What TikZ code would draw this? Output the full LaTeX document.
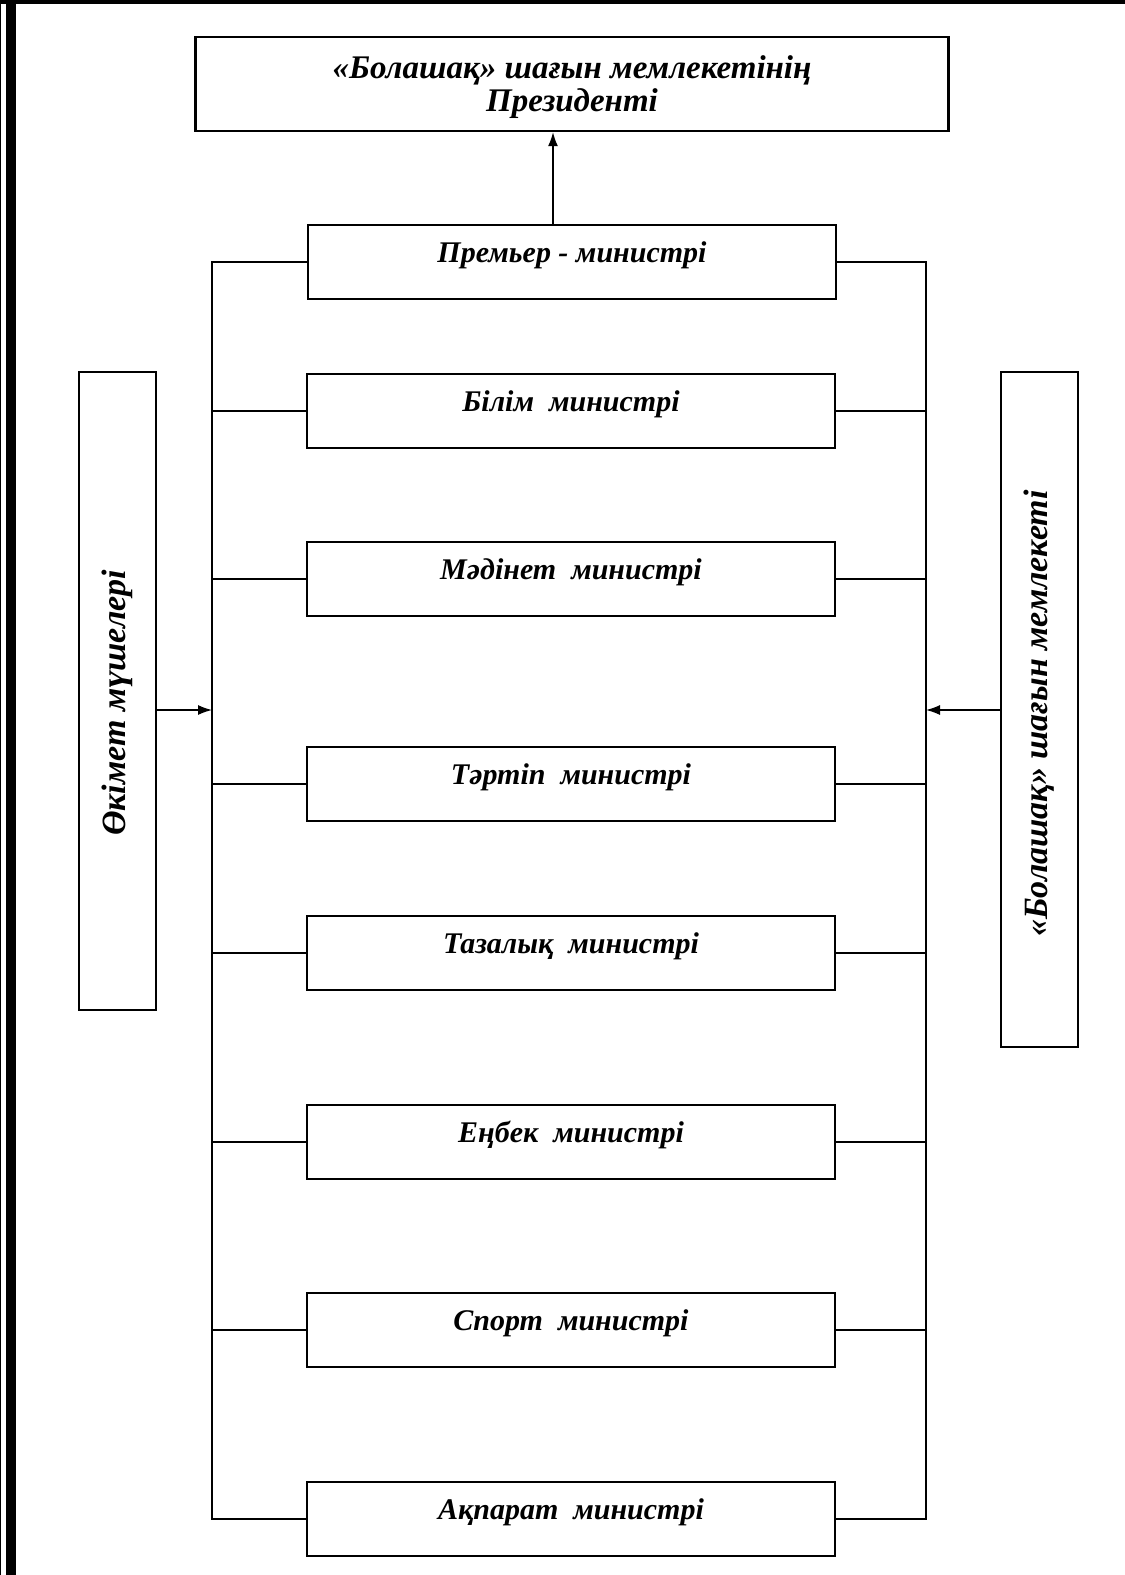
\documentclass[tikz,border=0pt]{standalone}
\usepackage{fontspec}
\setmainfont{Liberation Serif}
\usepackage{graphicx}
\usetikzlibrary{arrows.meta,calc}

\begin{document}
\begin{tikzpicture}[x=1pt,y=-1pt,
  BoxFont/.style={font=\fontsize{30}{34}\selectfont\bfseries\itshape},
  Box/.style={draw,BoxFont,line width=2.4pt,minimum width=528pt,minimum height=74pt,inner sep=0pt,text height=20pt,text depth=20pt},
  TopBox/.style={draw,line width=2.4pt,minimum width=753pt,minimum height=94pt,align=center,text depth=0pt,font=\fontsize{33}{33}\selectfont\bfseries\itshape},
  SideBox/.style={draw,line width=2pt,minimum width=77pt,inner sep=0pt,font=\fontsize{34}{38}\selectfont\bfseries\itshape},
  Link/.style={line width=2pt},
  Arr/.style={line width=1.3pt,-{Latex[length=14pt,width=10pt]}}]

\useasboundingbox (0,0) rectangle (1125,1575);
\fill (0,0) rectangle (1125,4);
\fill (6,0) rectangle (16,1575);
\draw[line width=1pt] (0.5,0) -- (0.5,1575);

\node[TopBox] (Pres) at (572,84) {«Болашақ» шағын мемлекетінің\\Президенті};
\node[Box] (Prem) at (572,262) {Премьер - министрі};
\foreach \n/\y/\t in {Bilim/411/Білім\ \ министрі,Madinet/579/Мәдінет\ \ министрі,
  Tartip/784/Тәртіп\ \ министрі,Tazalyk/953/Тазалық\ \ министрі,Enbek/1142/Еңбек\ \ министрі,
  Sport/1330/Спорт\ \ министрі,Akparat/1519/Ақпарат\ \ министрі}
  \node[Box] (\n) at (571,\y) {\t};

\node[SideBox,minimum height=638pt] (Okimet) at (117.5,691) {\rotatebox{90}{Өкімет мүшелері\hspace{24pt}}};
\node[SideBox,minimum height=675pt] (Bolashak) at (1039.5,709.5) {\rotatebox{90}{«Болашақ» шағын мемлекеті\hspace{8pt}}};

\coordinate (LB) at (212,0);
\coordinate (RB) at (926,0);
\coordinate (Up) at (553,0);
\coordinate (LA) at (212,710);
\coordinate (RA) at (926,710);

\draw[Link] (Prem.west) -- (Prem.west -| LB) -- (Akparat.west -| LB) -- (Akparat.west);
\draw[Link] (Prem.east) -- (Prem.east -| RB) -- (Akparat.east -| RB) -- (Akparat.east);
\foreach \n in {Bilim,Madinet,Tartip,Tazalyk,Enbek,Sport}
  \draw[Link] (\n.west -| LB) -- (\n.west) (\n.east) -- (\n.east -| RB);

\draw[Arr] (Prem.north -| Up) -- (Pres.south -| Up);
\draw[Arr] (Okimet.east |- LA) -- (LA);
\draw[Arr] (Bolashak.west |- RA) -- (RA);

\end{tikzpicture}
\end{document}
